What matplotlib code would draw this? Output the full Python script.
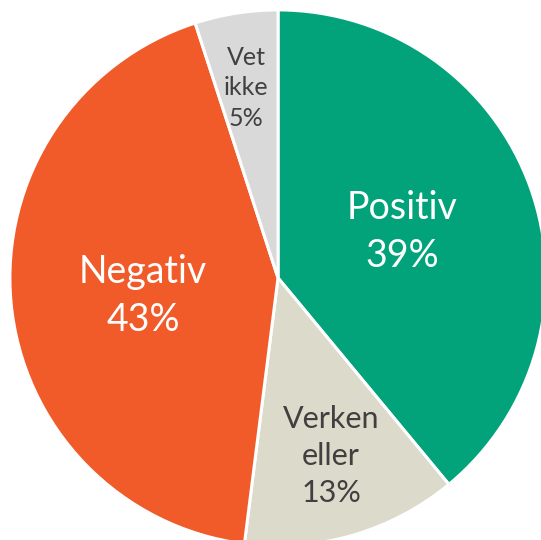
import matplotlib.pyplot as plt

# Survey answers, clockwise from the top
labels = ["Positiv", "Verken\neller", "Negativ", "Vet\nikke"]
shares = [39, 13, 43, 5]
colors = ["#02A37B", "#DCDACB", "#F15A29", "#D9D9D9"]
text_colors = ["white", "#404040", "white", "#404040"]

# label anchor points and font sizes (data units of the unit pie)
label_pos = [(0.463, 0.171), (0.198, -0.664), (-0.504, -0.067), (-0.119, 0.709)]
label_size = [27, 22, 27, 18]

fig = plt.figure(figsize=(5.41, 5.40), dpi=100)
ax = fig.add_axes([0, 0, 1, 1])

ax.pie(shares, colors=colors, startangle=90, counterclock=False,
       wedgeprops=dict(edgecolor="white", linewidth=2.2))

for lab, val, (x, y), c, s in zip(labels, shares, label_pos, text_colors, label_size):
    ax.text(x, y, f"{lab}\n{val}%", ha="center", va="center", color=c,
            fontsize=s, family=["Lato", "DejaVu Sans"], fontweight="normal",
            linespacing=1.4)

ax.set_xlim(-1.037, 0.981)
ax.set_ylim(-0.978, 1.037)
ax.set_aspect("auto")
ax.axis("off")

fig.savefig("out.png", dpi=100)
